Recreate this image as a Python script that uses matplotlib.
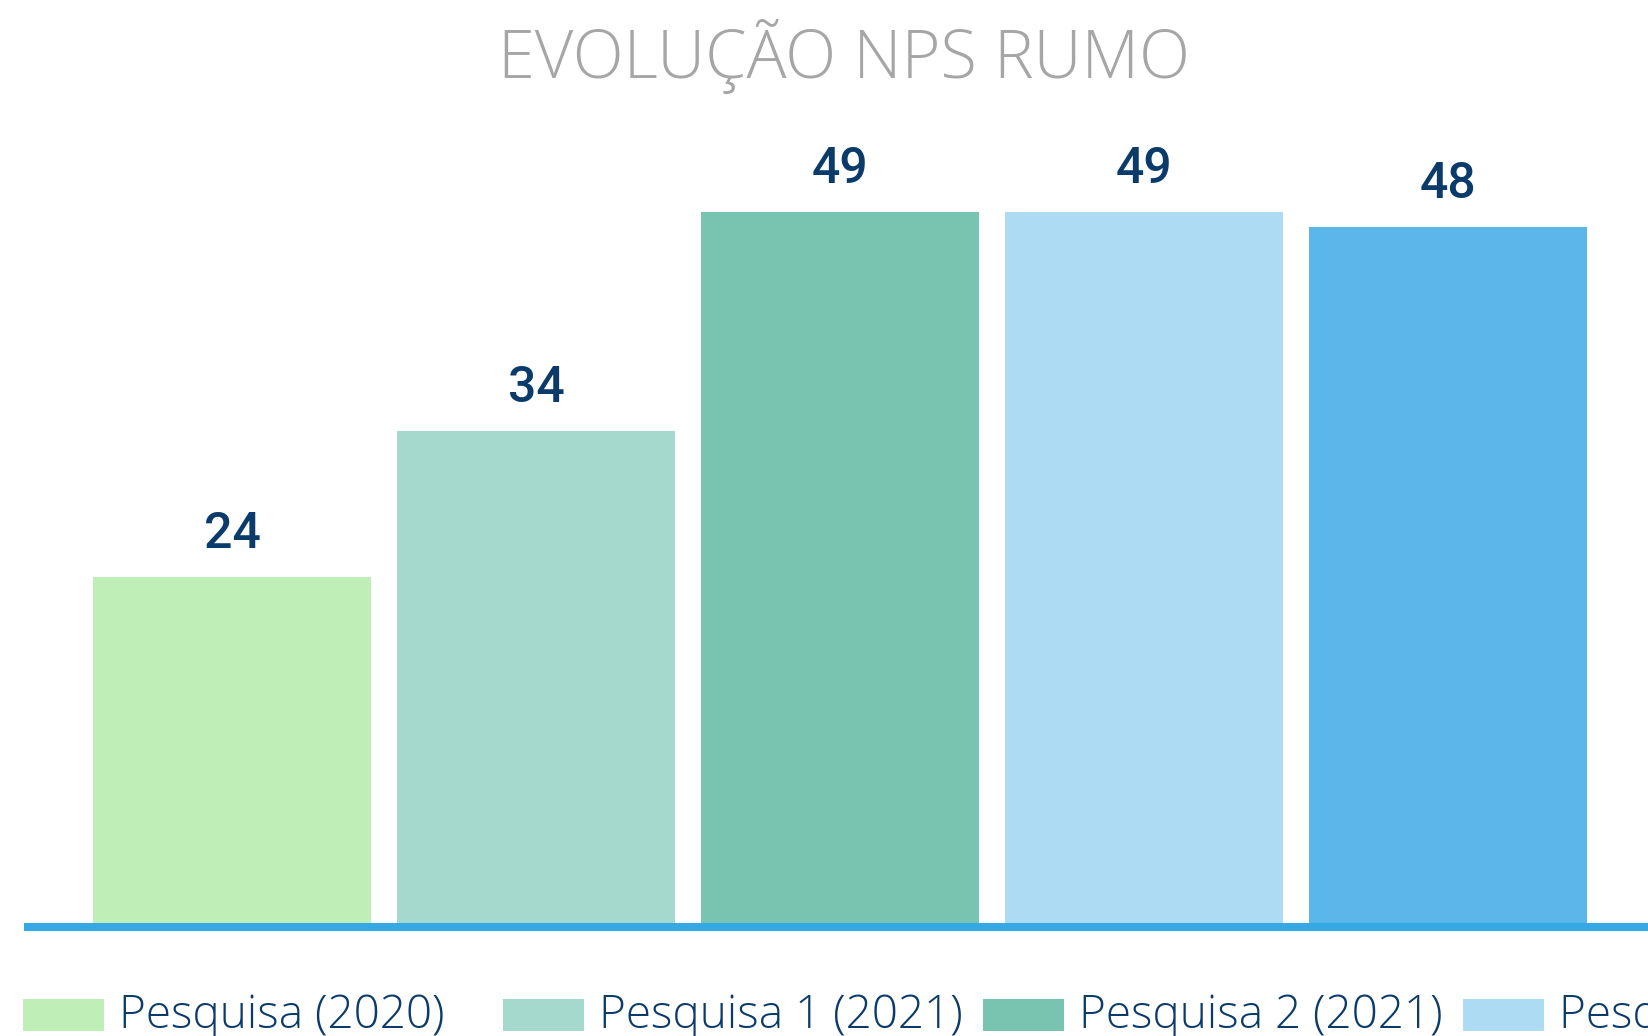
import matplotlib
matplotlib.use("Agg")
import matplotlib.pyplot as plt
from matplotlib.patches import Rectangle

# dados do gráfico
pesquisas = ["Pesquisa (2020)", "Pesquisa 1 (2021)", "Pesquisa 2 (2021)",
             "Pesquisa 1 (2022)", "Pesquisa 2 (2022)"]
nps = [24, 34, 49, 49, 48]
cores = ["#C0EEB7", "#A6D9CE", "#79C4B0", "#AEDBF4", "#5BB7E9"]

azul_escuro = "#0B3B6B"
azul_linha = "#35A8E6"

W, H = 1649, 1036
fig = plt.figure(figsize=(W / 100, H / 100), dpi=100)
ax = fig.add_axes([24 / W, 1 - 927 / H, 1 - 24 / W, (927 - 125) / H])

x = range(len(nps))
barras = ax.bar(x, nps, width=0.915, color=cores, zorder=2)

# rótulos de valor acima das barras
for xi, v in zip(x, nps):
    ax.annotate(str(v), (xi, v), xytext=(0, 21), textcoords="offset points",
                ha="center", va="baseline", fontsize=36, fontweight="medium",
                family="Roboto", color=azul_escuro)

ax.set_xlim(-0.684, 4.661)
ax.set_ylim(0, 55)
ax.set_xticks([])
ax.set_yticks([])
for lado in ["top", "right", "left"]:
    ax.spines[lado].set_visible(False)
ax.spines["bottom"].set_color(azul_linha)
ax.spines["bottom"].set_linewidth(5.8)
ax.spines["bottom"].set_zorder(3)
ax.spines["bottom"].set_capstyle("butt")

fig.text(844 / W, 1 - 78 / H, "EVOLUÇÃO NPS RUMO", ha="center",
         va="baseline", fontsize=48, fontweight=300, family="Open Sans",
         color="#A6A6A6")

# legenda na parte de baixo, colunas de largura fixa (corta na borda direita)
passo = 480
for i, (nome, cor) in enumerate(zip(pesquisas, cores)):
    x0 = 23 + i * passo
    fig.add_artist(Rectangle((x0 / W, 1 - 1031 / H), 81 / W, 32 / H,
                             transform=fig.transFigure, facecolor=cor,
                             edgecolor="none"))
    fig.text((x0 + 96) / W, 1 - 1028 / H, nome, ha="left", va="baseline",
             fontsize=33, fontweight=300, family="Open Sans",
             color=azul_escuro)

fig.savefig("out.png", dpi=100)
